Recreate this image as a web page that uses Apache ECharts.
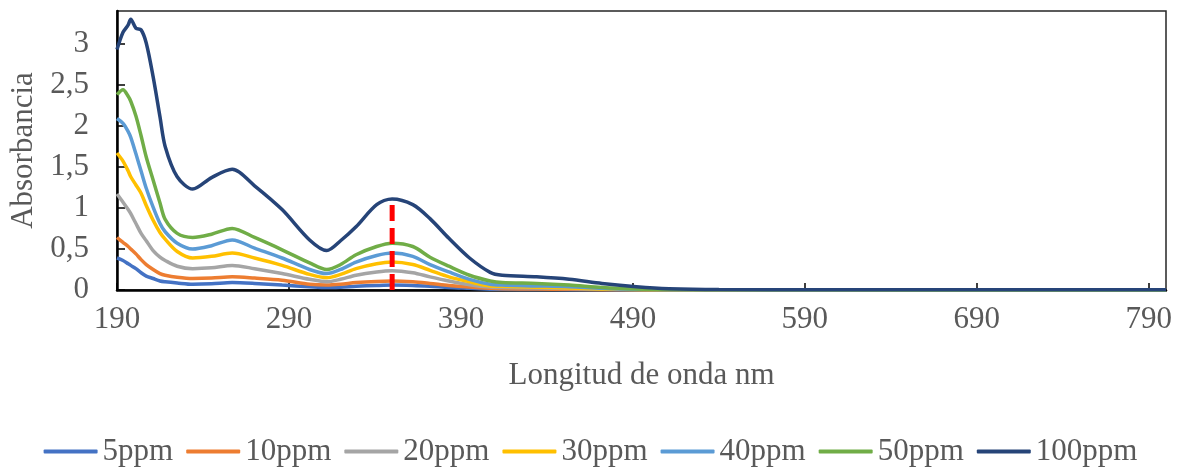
<!DOCTYPE html>
<html>
<head>
<meta charset="utf-8">
<script src="https://cdn.jsdelivr.net/npm/echarts@6/dist/echarts.min.js"></script>
<style>
  html, body { margin: 0; padding: 0; background: #fff; }
  #chart { width: 1181px; height: 468px; }
</style>
</head>
<body>
<div id="chart"></div>
<script>
// Absorption spectra (nm vs absorbance) for each concentration
const wavelengths = [190, 193.5, 196.5, 198, 201, 204, 207, 211, 215, 218, 225, 234, 245, 257, 270, 286, 302, 312, 320, 329, 341, 350, 362, 372, 383, 395, 407, 414, 434, 453, 472, 492, 511, 540, 600, 700, 800];

const ppm5   = [0.39, 0.36, 0.32, 0.30, 0.26, 0.21, 0.17, 0.14, 0.11, 0.10, 0.085, 0.07, 0.075, 0.09, 0.08, 0.06, 0.04, 0.03, 0.035, 0.045, 0.055, 0.06, 0.055, 0.045, 0.03, 0.02, 0.01, 0.008, 0.006, 0.004, 0.002, 0.001, 0.001, 0.001, 0.001, 0.001, 0.001];
const ppm10  = [0.64, 0.58, 0.53, 0.50, 0.44, 0.37, 0.31, 0.25, 0.20, 0.18, 0.155, 0.14, 0.145, 0.16, 0.145, 0.12, 0.07, 0.06, 0.07, 0.09, 0.105, 0.11, 0.10, 0.08, 0.055, 0.035, 0.02, 0.015, 0.012, 0.008, 0.004, 0.002, 0.001, 0.001, 0.001, 0.001, 0.001];
const ppm20  = [1.17, 1.07, 0.98, 0.93, 0.81, 0.69, 0.60, 0.48, 0.40, 0.36, 0.29, 0.26, 0.27, 0.30, 0.26, 0.20, 0.13, 0.10, 0.13, 0.18, 0.22, 0.235, 0.21, 0.16, 0.11, 0.065, 0.035, 0.03, 0.025, 0.018, 0.008, 0.004, 0.002, 0.001, 0.001, 0.001, 0.001];
const ppm30  = [1.67, 1.57, 1.45, 1.38, 1.28, 1.18, 1.03, 0.85, 0.70, 0.62, 0.47, 0.39, 0.41, 0.45, 0.39, 0.30, 0.19, 0.15, 0.19, 0.26, 0.32, 0.34, 0.31, 0.24, 0.16, 0.10, 0.05, 0.045, 0.035, 0.025, 0.012, 0.005, 0.003, 0.002, 0.001, 0.001, 0.001];
const ppm40  = [2.09, 2.03, 1.93, 1.86, 1.66, 1.45, 1.24, 1.01, 0.81, 0.71, 0.57, 0.50, 0.54, 0.61, 0.51, 0.39, 0.25, 0.20, 0.25, 0.34, 0.42, 0.45, 0.41, 0.31, 0.22, 0.13, 0.07, 0.06, 0.05, 0.04, 0.02, 0.008, 0.004, 0.002, 0.001, 0.001, 0.001];
const ppm50  = [2.38, 2.44, 2.36, 2.30, 2.12, 1.88, 1.62, 1.34, 1.06, 0.86, 0.69, 0.64, 0.68, 0.75, 0.64, 0.49, 0.33, 0.25, 0.31, 0.43, 0.53, 0.57, 0.53, 0.40, 0.29, 0.18, 0.11, 0.09, 0.08, 0.06, 0.03, 0.012, 0.005, 0.003, 0.002, 0.001, 0.001];
const ppm100 = [2.93, 3.14, 3.23, 3.30, 3.19, 3.17, 3.01, 2.60, 2.11, 1.75, 1.38, 1.23, 1.37, 1.47, 1.27, 0.98, 0.61, 0.48, 0.60, 0.77, 1.04, 1.11, 1.04, 0.87, 0.63, 0.39, 0.215, 0.18, 0.16, 0.13, 0.08, 0.04, 0.016, 0.005, 0.003, 0.002, 0.002];

const seriesNames  = ['5ppm', '10ppm', '20ppm', '30ppm', '40ppm', '50ppm', '100ppm'];
const seriesValues = [ppm5, ppm10, ppm20, ppm30, ppm40, ppm50, ppm100];
const seriesColors = ['#4472C4', '#ED7D31', '#A5A5A5', '#FFC000', '#5B9BD5', '#70AD47', '#264478'];

// Reference wavelength marker (absorption maximum of the 100ppm band)
const markerWavelength = 350;
const markerAbsorbance = [0, 1.1];

const xTicks = [190, 290, 390, 490, 590, 690, 790];
const yTicks = [0, 0.5, 1, 1.5, 2, 2.5, 3];

const FONT = "'Liberation Serif', 'Times New Roman', serif";
const TEXT = '#595959';

const chart = echarts.init(document.getElementById('chart'), null, { renderer: 'canvas' });

const lineSeries = seriesNames.map((name, i) => ({
  name: name,
  type: 'line',
  data: wavelengths.map((w, k) => [w, seriesValues[i][k]]),
  smooth: 0.3,
  symbol: 'none',
  lineStyle: { color: seriesColors[i], width: 3.5 },
  itemStyle: { color: seriesColors[i] },
  z: 2 + i
}));

lineSeries.push({
  name: 'marker',
  type: 'line',
  data: markerAbsorbance.map(a => [markerWavelength, a]),
  symbol: 'none',
  lineStyle: { color: '#FF0000', width: 5, type: [16, 7] },
  z: 20,
  silent: true
});

chart.setOption({
  animation: false,
  backgroundColor: '#fff',
  grid: {
    left: 117, right: 15, top: 11, bottom: 178,
    show: true, borderColor: '#262626', borderWidth: 1.5, backgroundColor: 'transparent'
  },
  legend: {
    data: seriesNames.map((n, i) => ({ name: n, icon: 'roundRect', itemStyle: { color: seriesColors[i] } })),
    top: 431,
    left: 'center',
    itemWidth: 54,
    itemHeight: 4,
    itemGap: 13,
    textStyle: { fontFamily: FONT, fontSize: 31, color: TEXT }
  },
  xAxis: {
    type: 'value',
    min: 190, max: 800,
    name: 'Longitud de onda nm',
    nameLocation: 'middle',
    nameGap: 70,
    nameTextStyle: { fontFamily: FONT, fontSize: 31, color: TEXT },
    axisLine: { show: true, onZero: false, lineStyle: { color: '#000', width: 2.5 } },
    axisTick: { show: true, inside: true, length: 7, customValues: xTicks, lineStyle: { color: '#000', width: 1.5 } },
    axisLabel: { customValues: xTicks, margin: 14, fontFamily: FONT, fontSize: 31, color: TEXT },
    splitLine: { show: false }
  },
  yAxis: {
    type: 'value',
    min: 0, max: 3.4,
    name: 'Absorbancia',
    nameLocation: 'middle',
    nameGap: 69,
    nameTextStyle: { fontFamily: FONT, fontSize: 31, color: TEXT },
    axisLine: { show: true, lineStyle: { color: '#000', width: 2.5 } },
    axisTick: { show: true, inside: true, length: 8, customValues: yTicks, lineStyle: { color: '#000', width: 1.5 } },
    axisLabel: {
      customValues: yTicks,
      margin: 28,
      fontFamily: FONT, fontSize: 31, color: TEXT,
      formatter: v => String(v).replace('.', ',')
    },
    splitLine: { show: false }
  },
  series: lineSeries
});
</script>
</body>
</html>
